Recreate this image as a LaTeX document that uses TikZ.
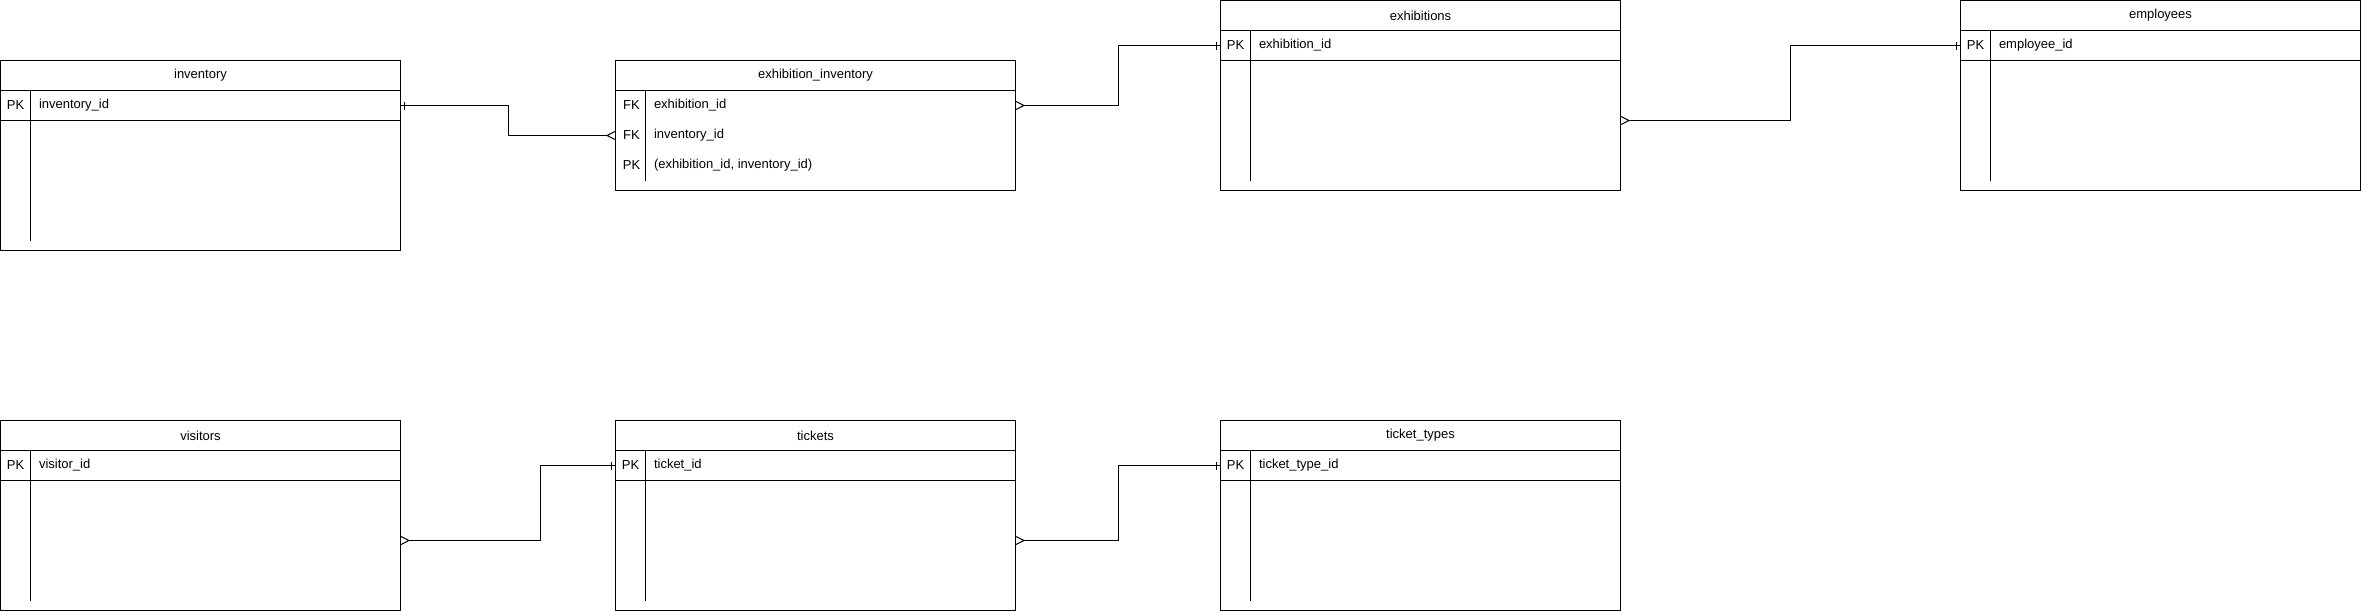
\documentclass[tikz,border=0pt]{standalone}
\usepackage{fontspec}
\setmainfont{Liberation Sans}
\usetikzlibrary{positioning,calc,arrows.meta,decorations.markings}

\begin{document}
\begin{tikzpicture}[x=1pt,y=-1pt,line width=1pt,
                    font=\fontsize{13}{15}\selectfont,
                    head/.style={draw,rectangle,minimum width=400pt,minimum height=30pt,inner sep=0pt,outer sep=0pt,anchor=north west},
                    keyrow/.style={draw,rectangle,minimum width=400pt,minimum height=30pt,inner sep=0pt,outer sep=0pt},
                    body/.style={draw,rectangle,minimum width=400pt,inner sep=0pt,outer sep=0pt},
                    key/.style={inner sep=0pt,anchor=center},
                    field/.style={inner sep=0pt,anchor=west},
                    manystart/.style={{Straight Barb[reversed,length=8pt,width=8pt]}-},
                    manyend/.style={-{Straight Barb[reversed,length=8pt,width=8pt]}},
                    onestart/.style={postaction={decorate,decoration={markings,
                        mark=at position 4pt with {\draw[-,line width=1pt] (0,-4pt) -- (0,4pt);}}}},
                    oneend/.style={postaction={decorate,decoration={markings,
                        mark=at position -4pt with {\draw[-,line width=1pt] (0,-4pt) -- (0,4pt);}}}}]

  \useasboundingbox (0,0) rectangle (2362,611);

  % top row
  \node[head] (inv) at (0.5,60.5) {inventory};
  \node[keyrow,below=0pt of inv] (inv-pk) {};
  \node[body,minimum height=130pt,below=0pt of inv-pk] (inv-body) {};
  \node[key] (inv-k1) at ($(inv-pk.west)+(15,0)$) {PK};
  \node[field] (inv-f1) at ($(inv-pk.west)+(38,0)$) {inventory\_id};
  \draw ($(inv-pk.north west)+(30,0)$) -- ($(inv-body.south west)+(30,-10)$);

  \node[head] (exinv) at (615.5,60.5) {exhibition\_inventory};
  \node[body,minimum height=100pt,below=0pt of exinv] (exinv-body) {};
  \node[key] (exinv-k1) at ($(exinv-body.north west)+(16,15)$) {FK};
  \node[key] (exinv-k2) at ($(exinv-body.north west)+(16,45)$) {FK};
  \node[key] (exinv-k3) at ($(exinv-body.north west)+(16,75)$) {PK};
  \node[field] (exinv-f1) at ($(exinv-body.north west)+(38,15)$) {exhibition\_id};
  \node[field] (exinv-f2) at ($(exinv-body.north west)+(38,45)$) {inventory\_id};
  \node[field] (exinv-f3) at ($(exinv-body.north west)+(38,75)$) {(exhibition\_id, inventory\_id)};
  \draw ($(exinv-body.north west)+(30,0)$) -- ($(exinv-body.south west)+(30,-10)$);

  \node[head] (exh) at (1220.5,0.5) {exhibitions};
  \node[keyrow,below=0pt of exh] (exh-pk) {};
  \node[body,minimum height=130pt,below=0pt of exh-pk] (exh-body) {};
  \node[key] (exh-k1) at ($(exh-pk.west)+(15,0)$) {PK};
  \node[field] (exh-f1) at ($(exh-pk.west)+(38,0)$) {exhibition\_id};
  \draw ($(exh-pk.north west)+(30,0)$) -- ($(exh-body.south west)+(30,-10)$);

  \node[head] (emp) at (1960.5,0.5) {employees};
  \node[keyrow,below=0pt of emp] (emp-pk) {};
  \node[body,minimum height=130pt,below=0pt of emp-pk] (emp-body) {};
  \node[key] (emp-k1) at ($(emp-pk.west)+(15,0)$) {PK};
  \node[field] (emp-f1) at ($(emp-pk.west)+(38,0)$) {employee\_id};
  \draw ($(emp-pk.north west)+(30,0)$) -- ($(emp-body.south west)+(30,-10)$);

  % bottom row
  \node[head] (vis) at (0.5,420.5) {visitors};
  \node[keyrow,below=0pt of vis] (vis-pk) {};
  \node[body,minimum height=130pt,below=0pt of vis-pk] (vis-body) {};
  \node[key] (vis-k1) at ($(vis-pk.west)+(15,0)$) {PK};
  \node[field] (vis-f1) at ($(vis-pk.west)+(38,0)$) {visitor\_id};
  \draw ($(vis-pk.north west)+(30,0)$) -- ($(vis-body.south west)+(30,-10)$);

  \node[head] (tic) at (615.5,420.5) {tickets};
  \node[keyrow,below=0pt of tic] (tic-pk) {};
  \node[body,minimum height=130pt,below=0pt of tic-pk] (tic-body) {};
  \node[key] (tic-k1) at ($(tic-pk.west)+(15,0)$) {PK};
  \node[field] (tic-f1) at ($(tic-pk.west)+(38,0)$) {ticket\_id};
  \draw ($(tic-pk.north west)+(30,0)$) -- ($(tic-body.south west)+(30,-10)$);

  \node[head] (tt) at (1220.5,420.5) {ticket\_types};
  \node[keyrow,below=0pt of tt] (tt-pk) {};
  \node[body,minimum height=130pt,below=0pt of tt-pk] (tt-body) {};
  \node[key] (tt-k1) at ($(tt-pk.west)+(15,0)$) {PK};
  \node[field] (tt-f1) at ($(tt-pk.west)+(38,0)$) {ticket\_type\_id};
  \draw ($(tt-pk.north west)+(30,0)$) -- ($(tt-body.south west)+(30,-10)$);

  % relations
  \draw[onestart,manyend] (inv-pk.east) -- ++(107.5,0) |- (exinv-body.west |- exinv-k2);
  \draw[manystart,oneend] (exinv-body.east |- exinv-k1) -- ++(102.5,0) |- (exh-pk.west);
  \draw[manystart,oneend] ([yshift=5pt]exh-body.east) -- ++(170,0) |- (emp-pk.west);
  \draw[manystart,oneend] ([yshift=5pt]vis-body.east) -- ++(140,0) |- (tic-pk.west);
  \draw[manystart,oneend] ([yshift=5pt]tic-body.east) -- ++(102.5,0) |- (tt-pk.west);
\end{tikzpicture}
\end{document}
